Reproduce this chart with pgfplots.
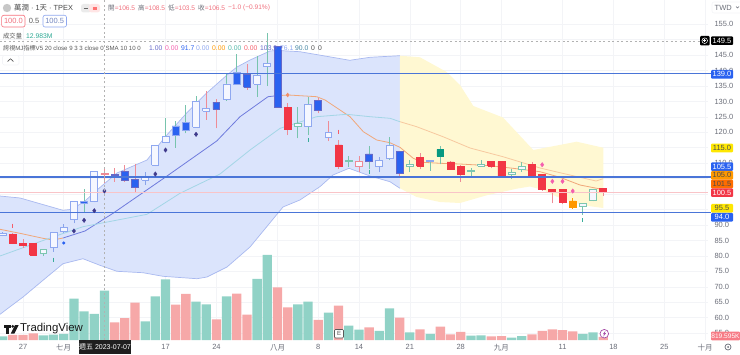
\documentclass[border=0pt]{standalone}
\usepackage{fontspec}
\setmainfont{Liberation Sans}
\newfontfamily\cjk{Noto Sans CJK TC}
\usepackage{pgfplots}
\pgfplotsset{compat=1.18}
\definecolor{bandB}{HTML}{DBE4FC}
\definecolor{bandBe}{HTML}{A9B9F0}
\definecolor{bandY}{HTML}{FFF8D2}
\definecolor{lnPur}{HTML}{6F7BDD}
\definecolor{lnOr}{HTML}{F0A77A}
\definecolor{lnOrF}{HTML}{F7C9A0}
\definecolor{lnCy}{HTML}{A3D6E6}
\definecolor{hBlue}{HTML}{4A75D8}
\definecolor{hPink}{HTML}{F9C4C8}
\definecolor{cBlue}{HTML}{2A62F0}
\definecolor{eBlue}{HTML}{6568C8}
\definecolor{cRed}{HTML}{F23645}
\definecolor{cTeal}{HTML}{089981}
\definecolor{cOr}{HTML}{FF9800}
\definecolor{hol}{HTML}{F5F7FF}
\definecolor{eHB}{HTML}{8FA8F0}
\definecolor{eHG}{HTML}{7CC6B0}
\definecolor{eHR}{HTML}{EE8A96}
\definecolor{wRed}{HTML}{EE8C96}
\definecolor{wGr}{HTML}{78C4AD}
\definecolor{wBl}{HTML}{8AA4EA}
\definecolor{vGr}{HTML}{90D2C6}
\definecolor{vRd}{HTML}{F6A8A8}
\definecolor{grd}{HTML}{F3F4F7}
\definecolor{txt}{HTML}{6A6D78}
\definecolor{dia}{HTML}{3F3A8C}
\definecolor{pnk}{HTML}{F45FAE}
\definecolor{numR}{HTML}{F0707D}
\newcommand{\candle}[8]{%
  \addplot[draw=#8,line width=0.8pt] coordinates {(#1,#2)(#1,#5)};%
  \pgfmathsetmacro\xa{#1-0.34}\pgfmathsetmacro\xb{#1+0.34}%
  \edef\tmp{\noexpand\addplot[fill=#6,draw=#7,line width=0.8pt] coordinates {(\xa,#3)(\xb,#3)(\xb,#4)(\xa,#4)(\xa,#3)};}\tmp%
}
\begin{document}
\begin{tikzpicture}
\path[use as bounding box] (0,0) rectangle (740pt,354pt);
\begin{axis}[
  at={(0,14pt)},anchor=south west,scale only axis,width=708pt,height=340pt,
  xmin=-2.26,xmax=67.29,ymin=52.8,ymax=162.82,clip=false,
  axis line style={draw=none},major tick length=0pt,
  grid=major,major grid style={grd,line width=0.6pt},
  xtick={0,4,14,19,25,29,33,38,43,47,53,58,63,67},
  xticklabels={27,{\cjk 七月},17,24,{\cjk 八月},8,14,21,28,{\cjk 九月},11,18,25,{\cjk 十月}},
  xticklabel style={font=\fontsize{7.5}{9}\selectfont,text=txt,yshift=-1pt},
  ytick={55,60,...,155},yticklabel pos=right,
  yticklabels={55.0,60.0,65.0,70.0,75.0,80.0,85.0,90.0,,,,110.0,,120.0,125.0,130.0,135.0,140.0,145.0,,155.0},
  yticklabel style={font=\fontsize{7.5}{9}\selectfont,text=txt,xshift=3pt},
]
% blue band
\addplot[fill=bandB,draw=none] coordinates {(-2.26,99.39)(-0.29,98.75)(0.98,97.55)(3.93,94.77)(4.81,95.09)(6.09,97.78)(7.27,101.34)(9.23,106.84)(12.18,111.04)(13.95,118.49)(16.08,126.25)(18.05,132.73)(20.04,138.55)(21.02,141.14)(22.3,143.4)(24.26,146.32)(25.05,146.48)(27.2,146.09)(32.1,143.31)(34.09,144.28)(37.03,144.8)
 (37.03,101.89)(36.05,104.02)(34.09,105.87)(32.02,108.36)(30.45,106.19)(29.17,102.41)(27.2,98.1)(25.54,95.84)(22.3,82.89)(20.04,76.42)(18.07,73.18)(17.09,72.63)(13.75,73.41)(11.79,74.57)(9.23,75.03)(7.56,76.97)(5.89,79.1)(3.93,77.49)(1.96,72.11)(0,66.71)(-2.26,61.11)};
% yellow band
\addplot[fill=bandY,draw=none] coordinates {(37.03,144.8)(39,144.28)(41.62,139.52)(42.93,135.31)(44.24,128.52)(47.15,124.8)(50.13,114.28)(54.39,116.97)(57,115.02)
 (57,95.51)(55.01,96.39)(52.43,99.17)(51.08,101.34)(49.8,102.47)(48.5,101.76)(45.55,99.62)(42.93,97.13)(40.96,97.45)(38.67,99.07)(37.03,101.89)};
\addplot[draw=bandBe,line width=0.7pt] coordinates {(-2.26,99.39)(-0.29,98.75)(0.98,97.55)(3.93,94.77)(4.81,95.09)(6.09,97.78)(7.27,101.34)(9.23,106.84)(12.18,111.04)(13.95,118.49)(16.08,126.25)(18.05,132.73)(20.04,138.55)(21.02,141.14)(22.3,143.4)(24.26,146.32)(25.05,146.48)(27.2,146.09)(32.1,143.31)(34.09,144.28)(37.03,144.8)};
\addplot[draw=bandBe,line width=0.7pt] coordinates {(-2.26,61.11)(0,66.71)(1.96,72.11)(3.93,77.49)(5.89,79.1)(7.56,76.97)(9.23,75.03)(11.79,74.57)(13.75,73.41)(17.09,72.63)(18.07,73.18)(20.04,76.42)(22.3,82.89)(25.54,95.84)(27.2,98.1)(29.17,102.41)(30.45,106.19)(32.02,108.36)(34.09,105.87)(36.05,104.02)(37.03,101.89)};
% moving lines
\addplot[draw=lnOr,line width=0.8pt] coordinates {(-2.26,88.62)(-0.29,87.32)(1.96,85.71)(2.95,85.16)(3.93,85.8)};
\addplot[draw=lnPur,line width=0.8pt] coordinates {(3.93,85.8)(6.09,88.07)(8.84,93.8)(14.05,105.64)(19.03,117.19)(21.32,125.06)(24.07,131.53)(24.92,131.85)};
\addplot[draw=lnOr,line width=0.8pt] coordinates {(24.92,131.85)(26.07,132.08)(28.85,131.53)(29.67,130.46)(32.12,125.06)(33.43,120.2)(34.74,117.52)(36.05,116.64)(37.03,115.15)(38.34,111.59)(39.29,110.3)(40.96,109.98)(42.93,109.75)(45.87,109.2)(48.13,108.36)(50.79,107.26)(52.75,105.45)(54.72,102.95)(56.36,101.89)(57,101.5)};
\addplot[draw=lnCy,line width=0.8pt] coordinates {(-2.26,79.98)(2.65,85.8)(5.89,89.46)(12.18,93.47)(15.42,100.27)(19.35,106.51)(22.3,114.28)(25.25,121.3)(28.85,125.06)(31.8,125.83)(34.09,125.06)(36.05,124.54)(37.03,123.44)};
\addplot[draw=lnOrF,line width=0.8pt] coordinates {(37.03,123.44)(38.67,121.82)(41.26,118.58)(43.91,114.93)(47.15,112.11)(50.79,108.46)(52.75,106.93)(56.29,104.25)(57,105)};
% candles: n, low, body bottom, body top, high, fill, edge, wick
\candle{-2}{86.45}{86.77}{87.42}{87.75}{hol}{eHB}{wBl}
\candle{-1}{83.86}{84.09}{87.10}{87.42}{cRed}{cRed}{wRed}
\candle{0}{82.66}{83.31}{84.09}{85.48}{cRed}{cRed}{wRed}
\candle{1}{80.14}{80.30}{84.09}{84.2}{cRed}{cRed}{wRed}
\candle{2}{79.98}{80.85}{82.14}{82.24}{hol}{eHG}{wGr}
\candle{3}{81.37}{82.79}{87.65}{87.75}{hol}{eHB}{wBl}
\candle{4}{87.42}{88.07}{89.14}{90.24}{hol}{eHB}{wBl}
\candle{5}{90.56}{91.85}{97.55}{97.6}{hol}{eHB}{wBl}
\candle{6}{94.22}{97.13}{97.6}{101.56}{cBlue}{eHB}{wGr}
\candle{7}{97.36}{97.55}{107.26}{107.48}{hol}{eHB}{wBl}
\candle{8}{103.5}{106.35}{106.67}{108.5}{eHR}{eHR}{wRed}
\candle{9}{104.02}{105.64}{106.42}{108.55}{eBlue}{eBlue}{wRed}
\candle{10}{104.02}{104.48}{107.26}{109.43}{cBlue}{eBlue}{wRed}
\candle{11}{100.59}{102.08}{104.8}{109.75}{cBlue}{eBlue}{wRed}
\candle{12}{102.96}{104.48}{105.45}{107.26}{hol}{eHB}{wBl}
\candle{13}{109.1}{109.33}{115.8}{115.9}{hol}{eHB}{wBl}
\candle{14}{116.55}{116.71}{118.59}{124.73}{hol}{eHB}{wGr}
\candle{15}{115.02}{119.13}{122.05}{123.76}{cBlue}{eHB}{wGr}
\candle{16}{119.68}{120.75}{123.11}{128.74}{cBlue}{eHB}{wGr}
\candle{17}{121.5}{121.63}{129.91}{131.75}{hol}{eHB}{wGr}
\candle{18}{123.99}{126.8}{127.87}{133.37}{hol}{eHB}{wRed}
\candle{19}{121.3}{127.45}{129.8}{130.69}{cBlue}{eBlue}{wRed}
\candle{20}{130.14}{130.78}{135.64}{139.29}{hol}{eHB}{wGr}
\candle{21}{135.47}{135.64}{139.42}{145.25}{cBlue}{eHB}{wGr}
\candle{22}{133.7}{134.57}{138.87}{142.11}{cBlue}{eBlue}{wRed}
\candle{23}{131.53}{135.54}{138.55}{144.7}{hol}{eHB}{wGr}
\candle{24}{134.99}{141.24}{142.21}{152.24}{hol}{eHB}{wGr}
\candle{25}{128}{128.1}{147.71}{147.8}{cBlue}{eBlue}{wBl}
\candle{26}{119.13}{120.98}{128.1}{129.39}{cRed}{cRed}{wRed}
\candle{27}{118.07}{121.95}{122.92}{128.1}{hol}{eHG}{wGr}
\candle{28}{119.13}{121.82}{128.94}{131.53}{hol}{eHB}{wGr}
\candle{29}{126.16}{126.98}{130.36}{131}{cBlue}{eBlue}{wRed}
\candle{30}{117.19}{118.49}{120.01}{123.66}{hol}{eHB}{wRed}
\candle{31}{108.13}{108.88}{115.9}{117.52}{cRed}{cRed}{wRed}
\candle{32}{108.88}{110.62}{110.82}{112.44}{eHG}{eHG}{wGr}
\candle{33}{107.26}{109}{110.62}{112.24}{hol}{eHR}{wRed}
\candle{34}{108.04}{110.49}{112.99}{115.57}{cBlue}{eBlue}{wGr}
\candle{35}{107.06}{108.88}{111.04}{112.11}{hol}{eHB}{wBl}
\candle{36}{111.04}{111.59}{115.9}{118.59}{hol}{eHB}{wGr}
\candle{37}{105.77}{106.84}{113.86}{113.96}{cBlue}{eBlue}{wRed}
\candle{38}{107.06}{109}{109.65}{111.04}{hol}{eHG}{wGr}
\candle{39}{108.13}{109.1}{111.92}{113.41}{cRed}{cRed}{wRed}
\candle{40}{107.58}{110.62}{110.82}{110.85}{eHB}{eHB}{wGr}
\candle{41}{109.65}{112.34}{114.51}{115.57}{cTeal}{cTeal}{wGr}
\candle{42}{107.97}{108.04}{110.4}{110.82}{cRed}{cRed}{wRed}
\candle{43}{104.02}{106.42}{109.1}{109.43}{cRed}{cRed}{wRed}
\candle{44}{105.87}{107.48}{107.68}{108.36}{eHG}{eHG}{wGr}
\candle{45}{108.88}{109}{109.65}{111.04}{hol}{eHG}{wGr}
\candle{46}{108.36}{109}{110.49}{110.5}{cRed}{cRed}{wRed}
\candle{47}{105.64}{105.87}{110.49}{110.72}{cRed}{cRed}{wRed}
\candle{48}{104.99}{106.29}{107.06}{108.04}{hol}{eHG}{wGr}
\candle{49}{107.26}{107.9}{109.1}{110.49}{hol}{eHG}{wGr}
\candle{50}{105.64}{105.87}{109.52}{110.49}{cRed}{cRed}{wRed}
\candle{51}{101.11}{101.43}{106.42}{106.5}{cRed}{cRed}{wRed}
\candle{52}{97.03}{100.46}{101.56}{101.6}{cRed}{cRed}{wRed}
\candle{53}{96.71}{97.36}{101.43}{101.5}{cRed}{cRed}{wRed}
\candle{54}{95.29}{95.61}{97.78}{98.65}{cOr}{cOr}{cOr}
\candle{55}{93.25}{96.06}{96.9}{96.95}{hol}{eHG}{wGr}
\candle{56}{97.68}{97.87}{101.66}{101.7}{hol}{eHG}{wGr}
\candle{57}{99.49}{100.59}{101.98}{102.1}{cRed}{cRed}{wRed}
% horizontal levels
\addplot[draw=hPink,line width=0.7pt] coordinates {(-2.26,100.5)(67.29,100.5)};
\addplot[draw=hBlue,line width=1.4pt] coordinates {(-2.26,139)(67.6,139)};
\addplot[draw=hBlue,line width=1.4pt] coordinates {(-2.26,105.5)(67.6,105.5)};
\addplot[draw=hBlue,line width=1.4pt] coordinates {(-2.26,94)(67.6,94)};
\addplot[draw=black!30,line width=0.6pt,dash pattern=on 2pt off 2.5pt] coordinates {(-2.26,149.5)(66.5,149.5)};
% markers
\addplot[only marks,mark=diamond*,mark size=2.2pt,color=dia] coordinates {(5,88.07)(6,91.53)(7,94.64)(8,101.01)(13,106.51)(14,114.28)(17,119.36)};
\addplot[only marks,mark=*,mark size=1.3pt,color=cBlue] coordinates {(4,84.19)};
\addplot[only marks,mark=diamond*,mark size=2.2pt,color=pnk] coordinates {(51,109.52)(52,104.15)(53,104.15)(54,101.01)};
\addplot[only marks,mark=diamond*,mark size=2pt,color=lnOr!85!red] coordinates {(26,132.08)};
\addplot[only marks,mark=|,mark size=2pt,mark options={line width=1pt},color=cTeal!80] coordinates {(3,78.78)(28,117.52)(34,107.26)(55,91.63)};
\addplot[only marks,mark=|,mark size=2pt,mark options={line width=1pt},color=cRed!80] coordinates {(-1,89.78)(31,120.2)};
\end{axis}
\begin{axis}[
  at={(0,14pt)},anchor=south west,scale only axis,width=708pt,height=340pt,
  xmin=-2.26,xmax=67.29,ymin=0,ymax=89.5,axis lines=none,
]
\addplot[ybar,bar width=9.3pt,bar shift=0pt,fill=vGr,draw=none] coordinates {(-2,0.97)(2,1.24)(3,1.40)(4,1.58)(5,10.87)(6,7.56)(7,6.85)(8,12.98)(12,4.92)(13,11.51)(14,15.98)(17,10.08)(18,9.40)(20,11.51)(23,16.06)(24,22.38)(27,9.40)(28,10.08)(30,7.19)(32,3.77)(33,2.71)(35,2.37)(36,8.35)(38,2.03)(40,1.58)(44,1.13)(45,1.24)(48,0.61)(49,1.05)(55,1.58)(56,2.03)};
\addplot[ybar,bar width=9.3pt,bar shift=0pt,fill=vRd,draw=none] coordinates {(-1,1.32)(0,1.32)(1,1.76)(9,4.66)(10,5.79)(11,9.82)(15,9.29)(16,12.11)(19,5.45)(21,12.19)(22,6.66)(25,13.88)(26,8.61)(29,5.27)(31,9.03)(34,3.34)(37,5.87)(39,2.82)(41,3.50)(42,1.50)(43,2.11)(46,0.97)(47,1.05)(50,1.50)(51,2.37)(52,2.82)(53,2.63)(54,2.29)(57,0.82)};
\addplot[draw=black!30,line width=0.7pt,dash pattern=on 2pt off 2.5pt] coordinates {(8,0)(8,89.5)};
\end{axis}
% overlays in pixel units
\begin{scope}[x=1pt,y=-1pt,shift={(0,354pt)},font=\fontsize{7.5}{9}\selectfont]
\tikzset{pl/.style={minimum width=22pt,minimum height=8.6pt,inner sep=0,rounded corners=1pt,text=white},t/.style={anchor=west,inner sep=0}}
% price labels
\node[pl,fill=black] at (722,40.7) {149.5};
\fill[black,rounded corners=1pt] (700,36) rectangle (709.5,45.5);
\draw[white,line width=.5pt] (704.7,40.7) circle (2.8);
\draw[white,line width=.5pt] (703,40.7)--(706.4,40.7) (704.7,39)--(704.7,42.4);
\node[pl,fill=cBlue] at (722,74.3) {139.0};
\node[pl,fill=yellow!90!orange,text=black!70] at (722,148) {115.0};
\node[pl,fill=cBlue] at (722,166.6) {105.5};
\node[pl,fill=cOr,text=black!70] at (722,175.3) {105.0};
\node[pl,fill=orange!85!red,text=black!70] at (722,184) {101.5};
\node[pl,fill=cRed] at (722,192.7) {100.5};
\node[pl,fill=yellow!90!orange,text=black!70] at (722,208.3) {95.5};
\node[pl,fill=cBlue] at (722,217.3) {94.0};
\node[pl,fill=cRed!65!white,minimum width=29pt,font=\fontsize{6.6}{8}\selectfont] at (725.5,336) {819.595K};
% crosshair date
\fill[black!88] (79,340) rectangle (131,354);
\node[text=white,inner sep=0,font=\fontsize{7}{9}\selectfont] at (105,347) {{\cjk 週五} 2023-07-07};
% TWD + gear
\draw[grd,line width=.6pt,rounded corners=2pt] (712,2) rectangle (745,13);
\node[t,text=txt] at (714.5,7.5) {TWD};
\draw[txt,line width=.5pt] (736,6.5)--(737.5,8)--(739,6.5);
\draw[txt,line width=.7pt] (728,347) circle (3);
\fill[txt] (728,347) circle (1);
% header
\fill[black!22] (7,8) circle (4.2);
\node[t,text=black!72,font=\fontsize{7.4}{10}\selectfont] at (14,8) {{\cjk 萬潤} · 1{\cjk 天} · TPEX};
\fill[black!8,rounded corners=2.5pt] (81,4) rectangle (91,12.5);
\fill[red!10,rounded corners=2.5pt] (89,4) rectangle (100,12.5);
\draw[black!60,line width=.6pt] (83.5,8.2)--(87.5,8.2);
\draw[red!55,line width=.5pt] (92.5,7)--(97,7) (92.5,8.3)--(97,8.3) (92.5,9.6)--(97,9.6);
\begin{scope}[font=\fontsize{6.6}{8}\selectfont]
\node[t,text=numR] at (108,8) {\textcolor{txt}{\cjk 開}=106.5};
\node[t,text=numR] at (138,8) {\textcolor{txt}{\cjk 高}=108.5};
\node[t,text=numR] at (168,8) {\textcolor{txt}{\cjk 低}=103.5};
\node[t,text=numR] at (198,8) {\textcolor{txt}{\cjk 收}=106.5};
\node[t,text=numR] at (228,8) {−1.0 (−0.91\%)};
\end{scope}
\draw[cRed!70,fill=white,rounded corners=2pt,line width=.6pt] (1.7,15.3) rectangle (25,27);
\node[text=numR,inner sep=0] at (13.4,21.2) {100.0};
\node[text=black!65,inner sep=0] at (34,21) {0.5};
\draw[eHB,fill=white,rounded corners=2pt,line width=.6pt] (43,15.3) rectangle (66.5,27);
\node[text=eHB!80!black,inner sep=0] at (54.7,21.2) {100.5};
\node[t,text=black!65,font=\fontsize{6.3}{8}\cjk] at (3,36) {成交量};
\node[t,text=cTeal!85,font=\fontsize{6.8}{8}\selectfont] at (26,36) {12.983M};
\node[t,text=black!65,font=\fontsize{6.1}{8}\selectfont] at (3,48) {{\cjk 誇視}MJ{\cjk 指標}V5 20 close 9 3 3 close 0 SMA 10 10 0};
\begin{scope}[font=\fontsize{6.8}{8}\selectfont]
\node[t,text=eBlue] at (149,48) {1.00};
\node[t,text=pnk] at (165,48) {0.00};
\node[t,text=cBlue] at (181,48) {91.7};
\node[t,text=eHB] at (196,48) {0.00};
\node[t,text=cOr] at (212,48) {0.00};
\node[t,text=cTeal!70] at (228,48) {0.00};
\node[t,text=cRed!80] at (244,48) {0.00};
\node[t,text=eBlue] at (260,48) {103.9};
\node[t,text=eHB] at (280,48) {76.1};
\node[t,text=cyan!60!black] at (295,48) {90.0};
\node[t,text=black!70] at (311,48) {0};
\node[t,text=black!70] at (318,48) {0};
\end{scope}
\draw[grd,fill=white,line width=.7pt,rounded corners=1.5pt] (2.5,55.5) rectangle (19,65);
\draw[black!65,line width=.7pt] (7.5,61.5)--(10.5,58.8)--(13.5,61.5);
% logo
\fill[black!90] (3.5,325) rectangle (10.5,327.8);
\fill[black!90] (6,325) rectangle (9,333.5);
\fill[black!90] (12.8,326.4) circle (1.5);
\fill[black!90] (15,325)--(18.7,325)--(14.4,333.5)--(10.8,333.5)--cycle;
\node[t,text=black!90,font=\fontsize{11.4}{12}\selectfont] at (20,329) {TradingView};
% E + lightning
\draw[black!65,fill=white,rounded corners=1pt,line width=.7pt] (334.5,329.5) rectangle (343.5,338);
\node[text=black!70,inner sep=0,font=\fontsize{6}{7}\selectfont] at (339,333.8) {E};
\draw[violet!70,fill=white,line width=.7pt] (604.3,333.7) circle (4.3);
\fill[violet!70] (605.5,330.8)--(602.8,334.2)--(604.2,334.2)--(603.2,336.6)--(606,333.2)--(604.6,333.2)--cycle;
\end{scope}
\end{tikzpicture}
\end{document}
